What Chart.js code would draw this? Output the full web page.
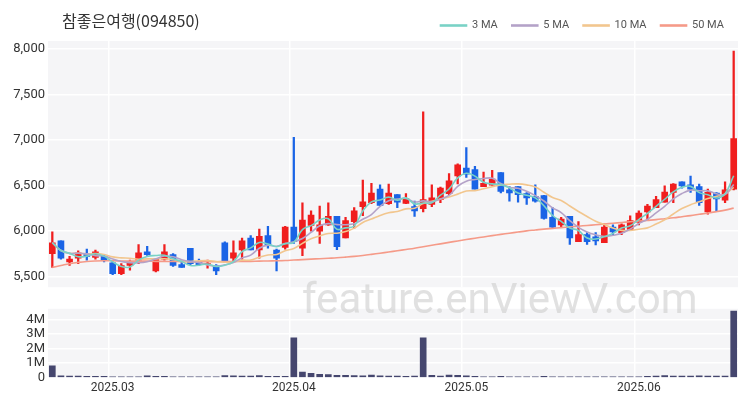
<!DOCTYPE html>
<html>
<head>
<meta charset="utf-8">
<script src="https://cdn.jsdelivr.net/npm/chart.js@4"></script>
<style>
  body { margin: 0; background: #fff; font-family: Roboto, "Noto Sans CJK KR", sans-serif; }
  #wrap { position: relative; width: 750px; height: 400px; }
  #title { position: absolute; left: 62px; top: 8px; font-size: 16px; color: #333; font-family: "Noto Sans CJK KR", sans-serif; }
  #mark { position: absolute; left: 302px; top: 274px; font-size: 42px; color: rgba(200,200,200,0.55); font-family: Roboto, sans-serif; z-index: 5; pointer-events: none; }
  canvas { position: absolute; left: 0; }
  #price { top: 0; }
  #vol { top: 298px; }
</style>
</head>
<body>
<div id="wrap">
  <canvas id="price" width="750" height="298"></canvas>
  <canvas id="vol" width="750" height="102"></canvas>
  <div id="title">참좋은여행(094850)</div>
  <div id="mark">feature.enViewV.com</div>
</div>
<script>
const opens  = [5750,5890,5660,5700,5750,5710,5720,5650,5530,5620,5680,5770,5560,5690,5740,5630,5810,5660,5630,5620,5870,5700,5790,5920,5790,5950,5790,5818,6042,5810,6060,5996,6067,6159,5924,6102,6266,6309,6458,6298,6398,6302,6266,6245,6291,6344,6409,6604,6690,6672,6487,6501,6640,6451,6487,6409,6380,6387,6149,6067,6159,5882,5960,5935,5871,6042,5981,6017,6095,6209,6255,6316,6423,6540,6505,6487,6209,6416,6337,6458];
const closes = [5870,5700,5690,5760,5720,5770,5680,5530,5620,5660,5760,5740,5690,5770,5620,5600,5640,5630,5640,5560,5670,5760,5890,5790,5940,5840,5700,6042,5882,6120,6173,6067,6159,5828,6113,6220,6320,6416,6280,6416,6316,6355,6220,6344,6362,6469,6551,6725,6622,6458,6522,6569,6433,6416,6398,6362,6327,6138,6042,6131,5924,5960,5882,5889,6042,5988,6067,6113,6195,6273,6344,6426,6515,6494,6458,6309,6423,6352,6451,7014];
const highs  = [5990,5890,5720,5780,5800,5790,5740,5660,5640,5680,5850,5830,5690,5850,5750,5670,5810,5690,5680,5630,5880,5890,5920,5950,6020,6050,5800,6050,7028,6309,6220,6273,6309,6159,6150,6255,6558,6522,6505,6515,6400,6409,6327,7306,6505,6480,6629,6736,6914,6708,6647,6665,6640,6487,6487,6420,6505,6390,6255,6149,6159,6102,5982,5982,6078,6067,6078,6166,6220,6291,6380,6494,6520,6540,6601,6515,6458,6420,6540,7975];
const lows   = [5600,5690,5620,5640,5680,5690,5660,5520,5520,5570,5640,5730,5550,5680,5610,5600,5620,5620,5590,5520,5650,5670,5690,5790,5700,5810,5560,5800,5864,5729,5996,5864,6060,5793,5924,6031,6166,6300,6273,6291,6255,6300,6159,6209,6266,6309,6398,6515,6586,6458,6487,6501,6416,6327,6316,6291,6316,6130,6024,6042,5853,5882,5853,5846,5871,5960,5960,6010,6067,6113,6255,6316,6309,6469,6423,6280,6184,6220,6309,6450];
const volumes = [0.82,0.12,0.1,0.1,0.08,0.08,0.08,0.06,0.06,0.06,0.06,0.12,0.08,0.08,0.06,0.06,0.06,0.06,0.06,0.06,0.14,0.12,0.1,0.1,0.14,0.08,0.08,0.08,2.75,0.38,0.3,0.22,0.2,0.16,0.16,0.14,0.12,0.18,0.12,0.1,0.1,0.08,0.1,2.75,0.16,0.1,0.18,0.16,0.12,0.08,0.06,0.06,0.08,0.06,0.06,0.06,0.06,0.08,0.06,0.06,0.06,0.06,0.06,0.06,0.06,0.06,0.06,0.06,0.06,0.08,0.1,0.14,0.1,0.1,0.1,0.12,0.1,0.1,0.1,4.6];
const ma50 = [5600,5620,5640,5655,5665,5670,5672,5672,5670,5668,5668,5668,5666,5665,5664,5663,5662,5662,5662,5662,5663,5664,5665,5666,5668,5670,5672,5675,5680,5685,5690,5695,5700,5705,5712,5720,5730,5742,5755,5768,5782,5796,5810,5826,5842,5858,5874,5890,5905,5920,5934,5948,5962,5975,5988,6000,6010,6020,6028,6036,6044,6052,6060,6068,6076,6084,6092,6100,6108,6116,6124,6134,6144,6156,6168,6182,6196,6212,6228,6250];
const monthTicks = { 7: '2025.03', 28: '2025.04', 48: '2025.05', 68: '2025.06' };
const priceTicks = [5500, 6000, 6500, 7000, 7500, 8000];
const volTicks = [0, 1, 2, 3, 4];

const labels = closes.map((c, i) => i);
const UP = '#f01e1e', DOWN = '#1a64e6';
const colors = closes.map((c, i) => c >= opens[i] ? UP : DOWN);

function movingAvg(n) {
  return closes.map((c, i) => {
    const s = closes.slice(Math.max(0, i - n + 1), i + 1);
    return s.reduce((a, b) => a + b, 0) / s.length;
  });
}

const plotBg = {
  id: 'plotBg',
  beforeDraw(chart) {
    const a = chart.chartArea, ctx = chart.ctx;
    ctx.save();
    ctx.fillStyle = '#f5f5f7';
    ctx.fillRect(a.left, a.top, a.right - a.left, a.bottom - a.top);
    ctx.restore();
  }
};

const fixY = { afterFit(scale) { scale.width = 48; } };
const xGrid = {
  color: ctx => monthTicks[ctx.index] !== undefined ? '#ffffff' : 'rgba(0,0,0,0)',
  lineWidth: 1.5,
  drawTicks: false
};

const maLine = (label, data, color) => ({
  type: 'line', label, data, borderColor: color, backgroundColor: color,
  borderWidth: 1.6, pointRadius: 0, tension: 0.4, order: 0
});

new Chart(document.getElementById('price'), {
  data: {
    labels,
    datasets: [
      maLine('3 MA', movingAvg(3), '#79d2c6'),
      maLine('5 MA', movingAvg(5), '#b4a2c8'),
      maLine('10 MA', movingAvg(10), '#f2c68e'),
      maLine('50 MA', ma50, '#f59a88'),
      { type: 'bar', label: 'wick', data: lows.map((l, i) => [l, highs[i]]), backgroundColor: colors,
        barThickness: 1.6, grouped: false, order: 2 },
      { type: 'bar', label: 'body', data: opens.map((o, i) => [o, closes[i] === o ? o + 8 : closes[i]]), backgroundColor: colors,
        barThickness: 6, grouped: false, order: 1 }
    ]
  },
  options: {
    responsive: false, animation: false,
    layout: { padding: { left: 0, right: 12, top: 6, bottom: 0 } },
    plugins: {
      legend: {
        align: 'end',
        labels: {
          filter: item => item.text.includes('MA'),
          boxWidth: 26, boxHeight: 1, font: { size: 11, family: 'Roboto' }, color: '#555', padding: 14
        }
      },
      tooltip: { enabled: false }
    },
    scales: {
      x: { offset: true, ticks: { display: false }, grid: xGrid, border: { display: false } },
      y: {
        min: 5382, max: 8085, afterFit: fixY.afterFit,
        afterBuildTicks: s => { s.ticks = priceTicks.map(v => ({ value: v })); },
        ticks: { color: '#333', font: { size: 13, family: 'Roboto' }, callback: v => v.toLocaleString('en-US') },
        grid: { color: '#ffffff', lineWidth: 1.5, drawTicks: false }, border: { display: false }
      }
    }
  },
  plugins: [plotBg]
});

new Chart(document.getElementById('vol'), {
  type: 'bar',
  data: {
    labels,
    datasets: [{ data: volumes, backgroundColor: '#45466e', barThickness: 6 }]
  },
  options: {
    responsive: false, animation: false,
    layout: { padding: { left: 0, right: 12, top: 4, bottom: 2 } },
    plugins: { legend: { display: false }, tooltip: { enabled: false } },
    scales: {
      x: {
        offset: true, grid: xGrid, border: { display: false },
        ticks: { autoSkip: false, maxRotation: 0, color: '#333', font: { size: 12, family: 'Roboto' },
          callback: (v, i) => monthTicks[i] || '' }
      },
      y: {
        min: 0, max: 4.75, afterFit: fixY.afterFit,
        afterBuildTicks: s => { s.ticks = volTicks.map(v => ({ value: v })); },
        ticks: { autoSkip: false, color: '#333', font: { size: 13, family: 'Roboto' }, callback: v => v === 0 ? '0' : v + 'M' },
        grid: { color: '#ffffff', lineWidth: 1.5, drawTicks: false }, border: { display: false }
      }
    }
  },
  plugins: [plotBg]
});
</script>
</body>
</html>
